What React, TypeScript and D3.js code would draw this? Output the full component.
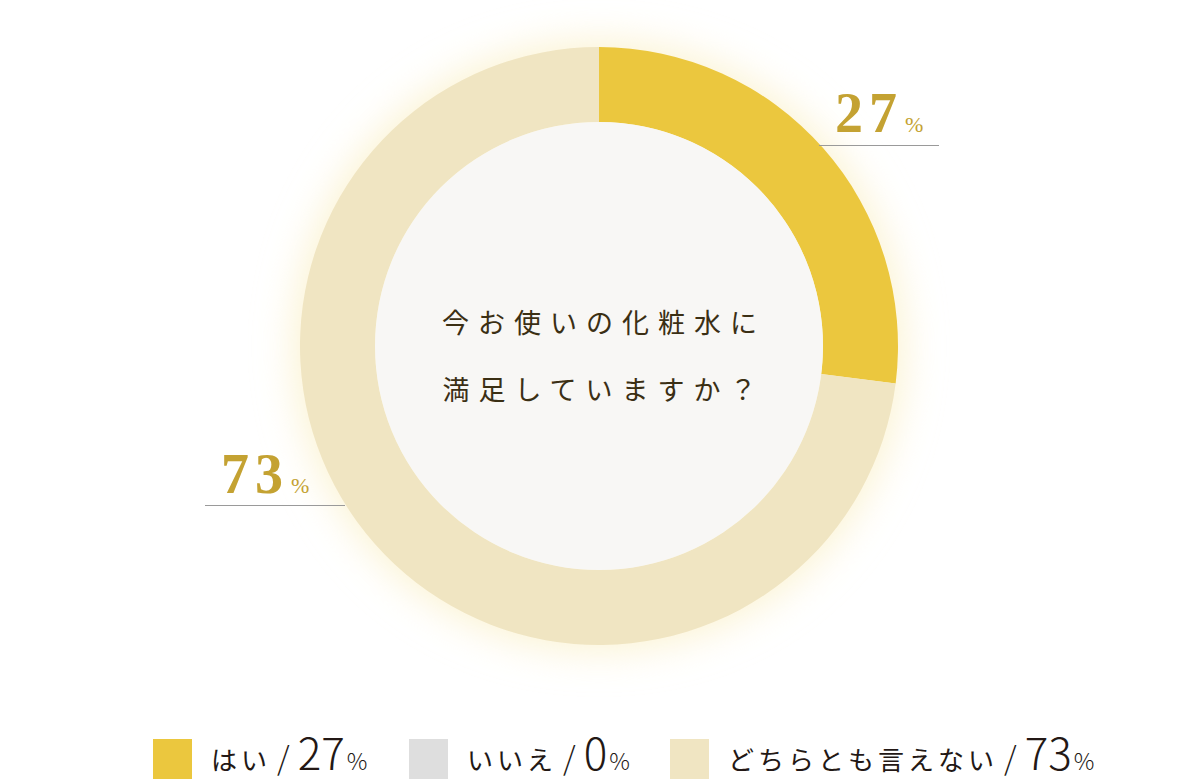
import React, { useEffect, useRef } from 'react';
import * as d3 from 'd3';

const categories = ['はい', 'いいえ', 'どちらとも言えない'];
const values = [27, 0, 73];
const colors = ['#ebc73e', '#dedede', '#f0e5c2'];
const questionLines = ['今お使いの化粧水に', '満足していますか？'];

const W = 1200;
const H = 779;
const cx = 599;
const cy = 346;
const outerR = 299;
const innerR = 224;

const labelFont = '"Liberation Serif", "DejaVu Serif", serif';
const jpFont = '"Noto Sans CJK JP", "Noto Sans", sans-serif';

const App: React.FC = () => {
  const ref = useRef<SVGSVGElement>(null);

  useEffect(() => {
    if (!ref.current) return;
    const svg = d3.select(ref.current);
    svg.selectAll('*').remove();

    const defs = svg.append('defs');
    const glow = defs
      .append('filter')
      .attr('id', 'glow')
      .attr('x', '-40%')
      .attr('y', '-40%')
      .attr('width', '180%')
      .attr('height', '180%');
    glow.append('feGaussianBlur').attr('stdDeviation', 20);

    const data = categories.map((c, i) => ({ name: c, value: values[i], color: colors[i] }));
    const pie = d3
      .pie<{ name: string; value: number; color: string }>()
      .sort(null)
      .value((d) => d.value);
    const arcs = pie(data);
    const arc = d3
      .arc<d3.PieArcDatum<{ name: string; value: number; color: string }>>()
      .innerRadius(innerR)
      .outerRadius(outerR);

    const g = svg.append('g').attr('transform', `translate(${cx},${cy})`);

    g.append('circle')
      .attr('r', outerR + 4)
      .attr('fill', '#fbf2cf')
      .attr('filter', 'url(#glow)');

    g.selectAll('path.slice')
      .data(arcs.filter((a) => a.data.value > 0))
      .enter()
      .append('path')
      .attr('class', 'slice')
      .attr('d', arc)
      .attr('fill', (d) => d.data.color);

    g.append('circle').attr('r', innerR).attr('fill', '#f8f7f5');

    g.selectAll('text.q')
      .data(questionLines)
      .enter()
      .append('text')
      .attr('class', 'q')
      .attr('x', 5)
      .attr('y', (d, i) => -13 + i * 67)
      .attr('text-anchor', 'middle')
      .attr('font-family', jpFont)
      .attr('font-size', 27)
      .attr('letter-spacing', 9)
      .attr('fill', '#3b2f14')
      .text((d) => d);

    // percentage callouts
    const callouts = [
      { value: values[0], x: 835, y: 132, lineX1: 819, lineX2: 939, lineY: 145.5 },
      { value: values[2], x: 221, y: 493, lineX1: 205, lineX2: 345, lineY: 505.5 },
    ];
    callouts.forEach((c) => {
      svg
        .append('line')
        .attr('x1', c.lineX1)
        .attr('x2', c.lineX2)
        .attr('y1', c.lineY)
        .attr('y2', c.lineY)
        .attr('stroke', '#9a9a9a')
        .attr('stroke-width', 1);
      const t = svg
        .append('text')
        .attr('x', c.x)
        .attr('y', c.y)
        .attr('font-family', labelFont)
        .attr('font-weight', 'bold')
        .attr('fill', '#c4a232');
      t.append('tspan').attr('font-size', 56).attr('letter-spacing', 6).text(String(c.value));
      t.append('tspan').attr('font-size', 22).attr('font-weight', 'normal').attr('dx', 2).text('%');
    });

    // legend
    const legendX = [153, 409, 670];
    const legend = svg
      .selectAll('g.leg')
      .data(data)
      .enter()
      .append('g')
      .attr('class', 'leg')
      .attr('transform', (d, i) => `translate(${legendX[i]},739)`);
    legend
      .append('rect')
      .attr('width', 39)
      .attr('height', 40)
      .attr('fill', (d) => d.color);
    const lt = legend
      .append('text')
      .attr('x', 58)
      .attr('y', 31)
      .attr('font-family', jpFont)
      .attr('fill', '#231815');
    lt.append('tspan').attr('font-size', 26).attr('letter-spacing', 4).text((d) => d.name);
    lt.append('tspan').attr('font-size', 32).attr('font-weight', 300).attr('dx', 6).text('/');
    lt.append('tspan').attr('font-size', 44).attr('font-weight', 300).attr('dx', 8).text((d) => String(d.value));
    lt.append('tspan').attr('font-size', 23).attr('font-weight', 300).attr('dx', 2).text('%');
  }, []);

  return (
    <svg ref={ref} width={W} height={H} style={{ display: 'block', position: 'absolute', left: 0, top: 0 }} />
  );
};

export default App;
